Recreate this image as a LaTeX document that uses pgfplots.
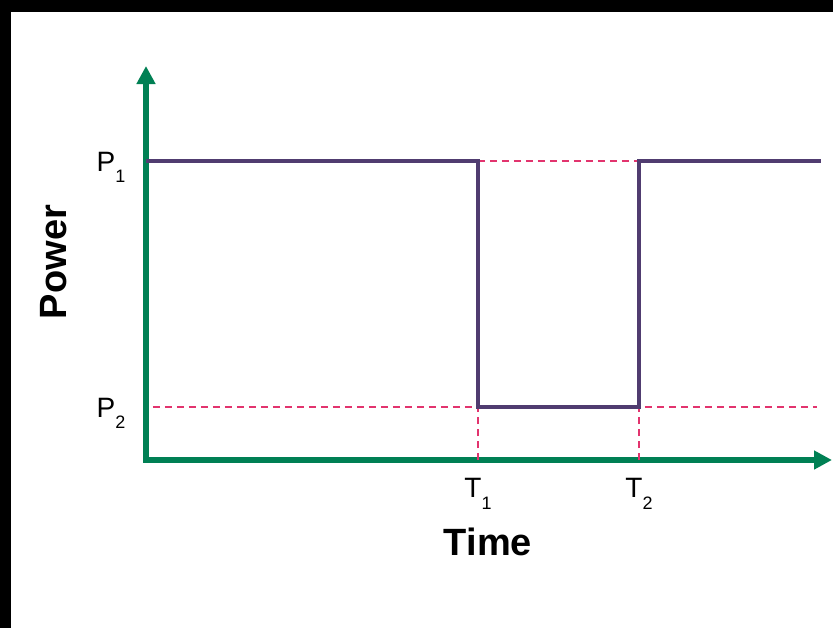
\documentclass[border=0pt]{standalone}
\usepackage{fontspec}
\setmainfont{Liberation Sans}
\usepackage{pgfplots}
\pgfplotsset{compat=1.18}
\usetikzlibrary{arrows.meta}
\definecolor{axgreen}{RGB}{0,128,84}
\definecolor{stepPurple}{RGB}{80,60,112}
\definecolor{guidePink}{RGB}{226,52,110}
\newcommand{\lab}[2]{\fontsize{8.4pt}{9pt}\selectfont #1\raisebox{-0.42em}{\fontsize{5.4pt}{6pt}\selectfont #2}}
\begin{document}
\begin{tikzpicture}
\useasboundingbox (-43.8pt,-50.1pt) rectangle (206.1pt,138pt);
\fill[white] (-40.5pt,-60pt) rectangle (215pt,134.4pt);
\fill[black] (-50pt,-60pt) rectangle (-40.5pt,145pt);
\fill[black] (-50pt,134.4pt) rectangle (215pt,145pt);
\begin{axis}[
  at={(0pt,0pt)}, anchor=south west,
  scale only axis, width=205.8pt, height=118.2pt,
  xmin=0, xmax=686, ymin=0, ymax=394,
  axis x line=bottom, axis y line=left,
  axis line style={axgreen, line width=1.7pt, line cap=rect},
  every outer x axis line/.append style={-{Triangle[width=5.4pt,length=5.4pt]}},
  every outer y axis line/.append style={-{Triangle[width=5.4pt,length=5.4pt]}},
  clip=false,
  xtick={332,493}, xticklabels={\lab{T}{1},\lab{T}{2}},
  ytick={53,299}, yticklabels={\lab{P}{2},\lab{P}{1}},
  major tick length=0pt,
  xticklabel style={anchor=north, inner sep=0pt, yshift=-5.2pt},
  yticklabel style={anchor=base east, inner sep=0pt, xshift=-6pt, yshift=-3pt},
  xlabel={Time}, ylabel={Power},
  label style={font=\fontsize{11.4pt}{12pt}\selectfont\bfseries},
  xlabel style={at={(axis cs:342,-82)}, anchor=center},
  ylabel style={at={(axis cs:-92,198)}, anchor=center},
]
\addplot[guidePink, line width=0.55pt, dash pattern=on 2.1pt off 1.5pt] coordinates {(7,53) (671,53)};
\addplot[guidePink, line width=0.55pt, dash pattern=on 2.1pt off 1.5pt] coordinates {(332,299) (493,299)};
\addplot[guidePink, line width=0.55pt, dash pattern=on 2.1pt off 1.5pt] coordinates {(332,0) (332,53)};
\addplot[guidePink, line width=0.55pt, dash pattern=on 2.1pt off 1.5pt] coordinates {(493,0) (493,53)};
\addplot[stepPurple, line width=1.15pt] coordinates {(0,299) (332,299) (332,53) (493,53) (493,299) (675,299)};
\end{axis}
\end{tikzpicture}
\end{document}
